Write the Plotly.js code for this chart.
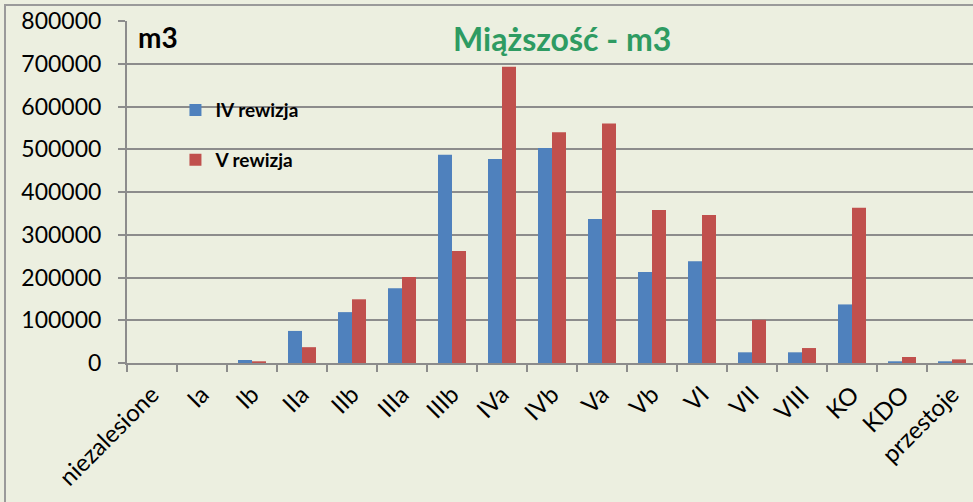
<!DOCTYPE html>
<html>
<head>
<meta charset="utf-8">
<script src="https://cdn.plot.ly/plotly-3.0.1.min.js"></script>
<style>
html,body{margin:0;padding:0;overflow:hidden;background:#ECEFE0;}
#chart{width:977px;height:502px;}
</style>
</head>
<body>
<div id="chart"></div>
<script>
const categories = ["niezalesione","Ia","Ib","IIa","IIb","IIIa","IIIb","IVa","IVb","Va","Vb","VI","VII","VIII","KO","KDO","przestoje"];
const rewizjaIV = [0, 0, 7000, 75000, 119000, 175000, 487000, 477000, 503000, 337000, 213000, 238000, 25000, 25000, 137000, 4000, 4000];
const rewizjaV  = [0, 0, 4000, 37000, 149000, 201000, 262000, 693000, 540000, 560000, 358000, 346000, 101000, 35000, 363000, 14000, 8500];
const seriesNames = ["IV rewizja", "V rewizja"];
const yTicks = [0,100000,200000,300000,400000,500000,600000,700000,800000];

const FONT = "Lato, 'DejaVu Sans', sans-serif";
const bg = "#ECEFE0";
const grid = "#8C8C8C";

const traces = [
  {type:"bar", name:seriesNames[0], x:categories, y:rewizjaIV, legendgroup:"a",
   marker:{color:"#4F81BD", line:{width:0}}},
  {type:"bar", name:seriesNames[1], x:categories, y:rewizjaV, legendgroup:"b",
   marker:{color:"#C0504D", line:{width:0}}}
];

const layout = {
  width:977, height:502,
  margin:{l:127, r:0, t:21, b:139, pad:0},
  paper_bgcolor:bg, plot_bgcolor:bg,
  font:{family:FONT, color:"#000", size:21},
  barmode:"group", bargap:0.44, bargroupgap:0,
  showlegend:true,
  legend:{x:0.057, y:0.795, xanchor:"left", yanchor:"top", bgcolor:"rgba(0,0,0,0)",
          font:{family:FONT, size:19, color:"#000", weight:"bold"},
          traceorder:"grouped", tracegroupgap:22, itemwidth:30},
  title:{text:"<b>Miąższość - m3</b>", font:{family:FONT, size:32, color:"#2E9B62"},
         xref:"paper", x:0.512, xanchor:"center", yref:"container", y:0.92, yanchor:"middle"},
  xaxis:{type:"category", tickangle:-45, showgrid:false, showline:true, linecolor:grid, linewidth:2,
         ticks:"outside", ticklen:7, tickcolor:grid, tickwidth:2, tickson:"boundaries",
         ticklabelstandoff:6,
         tickfont:{family:FONT, size:24, color:"#000"}, fixedrange:true},
  yaxis:{range:[0,800000], tickvals:yTicks, ticktext:yTicks.map(String), showgrid:true, gridcolor:grid, gridwidth:2,
         showline:true, linecolor:grid, linewidth:2, ticks:"outside", ticklen:7, tickcolor:grid, tickwidth:2,
         zeroline:false, ticklabelstandoff:12, tickfont:{family:FONT, size:23, color:"#000"}, fixedrange:true},
  annotations:[
    {text:"<b>m3</b>", xref:"paper", yref:"paper", x:(136-127)/850, y:(363-37)/342, xanchor:"left", yanchor:"middle",
     showarrow:false, font:{family:FONT, size:28, color:"#000"}}
  ],
  shapes:[
    {type:"rect", xref:"paper", yref:"paper", x0:(5-127)/850, x1:1.05, y0:(363-520)/342, y1:(363-5)/342,
     line:{color:"#9A9A9A", width:2}, fillcolor:"rgba(0,0,0,0)", layer:"below"}
  ]
};

Plotly.newPlot("chart", traces, layout, {displayModeBar:false, staticPlot:true});
</script>
</body>
</html>
